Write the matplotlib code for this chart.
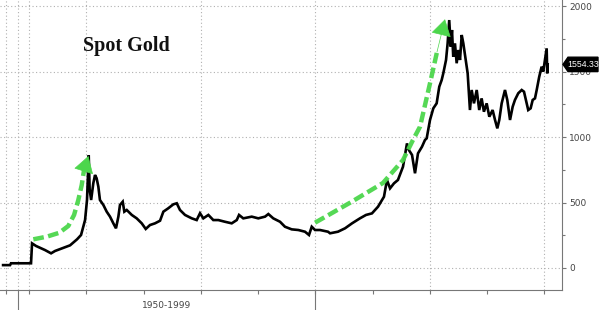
import matplotlib
matplotlib.use("Agg")
import matplotlib.pyplot as plt
from matplotlib.patches import Polygon
import matplotlib.transforms as mtransforms

# ---------------- data ----------------
years = [1972.72, 1973.33, 1973.41, 1975.16, 1975.25, 1975.60, 1976.38, 1976.91, 1977.26, 1977.87,
         1978.57, 1979.18, 1979.53, 1979.88, 1980.05, 1980.12, 1980.20, 1980.28, 1980.41, 1980.60,
         1980.75, 1980.89, 1981.04, 1981.18, 1981.48, 1981.77, 1982.06, 1982.35, 1982.58, 1982.79,
         1982.93, 1983.17, 1983.31, 1983.52, 1983.96, 1984.39, 1984.83, 1985.18, 1985.55, 1985.99,
         1986.43, 1986.72, 1987.15, 1987.59, 1987.89, 1988.17, 1988.61, 1989.20, 1989.63, 1989.92,
         1990.21, 1990.65, 1991.08, 1991.52, 1992.10, 1992.69, 1993.13, 1993.33, 1993.70, 1994.44,
         1995.01, 1995.60, 1995.89, 1996.32, 1996.91, 1997.34, 1997.93, 1998.51, 1999.09, 1999.44,
         1999.68, 1999.97, 2000.40, 2001.10, 2001.28, 2001.97, 2002.59, 2003.20, 2003.89, 2004.42,
         2004.94, 2005.47, 2005.99, 2006.25, 2006.52, 2006.86, 2007.21, 2007.65, 2008.00, 2008.17,
         2008.44, 2008.70, 2008.96, 2009.31, 2009.57, 2009.72, 2010.01, 2010.30, 2010.59, 2010.82,
         2011.03, 2011.17, 2011.41, 2011.55, 2011.69, 2011.82, 2011.93, 2012.04, 2012.19, 2012.34,
         2012.48, 2012.63, 2012.78, 2012.92, 2013.09, 2013.30, 2013.41, 2013.50, 2013.65, 2013.85,
         2014.09, 2014.31, 2014.52, 2014.72, 2014.96, 2015.19, 2015.48, 2015.69, 2015.89, 2016.06,
         2016.27, 2016.56, 2016.76, 2017.00, 2017.23, 2017.43, 2017.72, 2018.02, 2018.22, 2018.39,
         2018.59, 2018.80, 2018.98, 2019.18, 2019.33, 2019.55, 2019.76, 2019.90, 2020.05, 2020.20,
         2020.25, 2020.29]
prices = [22, 22, 36, 36, 188, 168, 137, 112, 130, 150,
          173, 219, 252, 366, 519, 672, 860, 600, 519, 647,
          710, 685, 621, 519, 481, 430, 392, 341, 303, 392,
          481, 506, 430, 443, 405, 379, 341, 298, 328, 341,
          361, 430, 456, 486, 494, 443, 405, 379, 366, 418,
          379, 405, 366, 366, 353, 341, 366, 405, 379, 392,
          379, 392, 412, 379, 353, 315, 295, 290, 277, 252,
          315, 290, 290, 277, 265, 277, 303, 341, 379, 405,
          417, 468, 544, 672, 608, 646, 672, 773, 951, 900,
          863, 723, 875, 926, 977, 990, 1130, 1219, 1257, 1384,
          1435, 1486, 1588, 1715, 1893, 1690, 1817, 1613, 1715, 1563,
          1664, 1588, 1779, 1715, 1613, 1486, 1334, 1206, 1359, 1257,
          1359, 1206, 1295, 1193, 1257, 1155, 1206, 1130, 1066, 1130,
          1257, 1359, 1283, 1130, 1231, 1283, 1334, 1359, 1346, 1283,
          1206, 1219, 1283, 1295, 1359, 1460, 1537, 1499, 1588, 1677,
          1486, 1554.33]
last_value = 1554.33

# annotation arrows (year, price)
arrow1_years = [1975.36, 1976.53, 1977.63, 1978.42, 1978.92, 1979.29, 1979.59, 1979.79]
arrow1_prices = [219, 239, 269, 321, 405, 519, 634, 748]
arrow1_tip = (1980.17, 855)
arrow2_years = [1999.97, 2003.02, 2005.90, 2007.65, 2008.52, 2009.14, 2010.01, 2010.62]
arrow2_prices = [346, 498, 649, 824, 977, 1079, 1410, 1649]
arrow2_tip = (2011.32, 1899)

y_major = [0, 500, 1000, 1500, 2000]
y_minor = [250, 750, 1250, 1750]
x_ticks = [1973, 1975, 1980, 1985, 1990, 1995, 2000, 2005, 2010, 2015, 2020]
x_grid = [1973, 1974, 1975, 1980, 1990, 2000, 2010, 2020]
x_separators = [1974, 2000]
period_label = "1950-1999"
title = "Spot Gold"

# ---------------- figure ----------------
fig = plt.figure(figsize=(6.0, 3.1), dpi=100)
ax = fig.add_axes([0, 20 / 310, 562 / 600, 290 / 310])
ax.set_xlim(1972.45, 2021.54)
ax.set_ylim(-168, 2046)

grid_kw = dict(color="#b0b0b0", lw=0.8, linestyle=(0, (1, 2.2)), zorder=0)
for v in y_major:
    ax.axhline(v, **grid_kw)
for yr in x_grid:
    ax.axvline(yr, **grid_kw)

ax.plot(years, prices, color="black", lw=1.9, zorder=3, solid_joinstyle="miter")

green = "#4cd64c"
for xs, ys, tip in [(arrow1_years, arrow1_prices, arrow1_tip),
                    (arrow2_years, arrow2_prices, arrow2_tip)]:
    ax.plot(xs, ys, color=green, lw=3.2, linestyle=(0, (2.4, 1.0)),
            dash_capstyle="butt", alpha=0.95, zorder=4)
    ax.annotate("", xy=tip, xytext=(xs[-1], ys[-1]),
                arrowprops=dict(arrowstyle="-|>,head_length=0.9,head_width=0.55",
                                color=green, lw=0.5, shrinkA=0, shrinkB=0,
                                mutation_scale=12), zorder=4)

# axes styling
for s in ["left", "top"]:
    ax.spines[s].set_visible(False)
for s in ["right", "bottom"]:
    ax.spines[s].set_color("#777777")
    ax.spines[s].set_linewidth(0.8)

ax.yaxis.tick_right()
ax.set_yticks(y_major)
ax.set_yticklabels([str(v) for v in y_major])
ax.set_yticks(y_minor, minor=True)
ax.tick_params(axis="y", which="major", direction="out", length=3, width=0.8,
               colors="#777777", labelcolor="#444444", labelsize=6.5, pad=2)
ax.tick_params(axis="y", which="minor", direction="out", length=2, width=0.8,
               colors="#777777")
ax.set_xticks(x_ticks)
ax.set_xticklabels([])
ax.tick_params(axis="x", which="major", direction="out", length=3, width=0.8,
               colors="#777777")

# separators below axis
trans = mtransforms.blended_transform_factory(ax.transData, ax.transAxes)
for yr in x_separators:
    ax.plot([yr, yr], [0, -22 / 290], transform=trans, color="#777777",
            lw=0.8, clip_on=False)
ax.text(sum(x_separators) / 2, -15 / 290, period_label, transform=trans,
        ha="center", va="center", fontsize=6.5, color="#444444")

# title
ax.text(126 / 562, 1 - 46 / 290, title, transform=ax.transAxes, ha="center",
        va="center", fontsize=14.5, family="Liberation Serif", weight="bold",
        color="#111111")

# last value tag
tt = mtransforms.blended_transform_factory(ax.transAxes, ax.transData)
px = 1 / 562
h = 7.2 * 7.634
tag = Polygon([(1 + 1 * px, last_value), (1 + 6 * px, last_value + h),
               (1 + 36 * px, last_value + h), (1 + 36 * px, last_value - h),
               (1 + 6 * px, last_value - h)], closed=True, transform=tt,
              facecolor="black", edgecolor="black", clip_on=False, zorder=10)
ax.add_patch(tag)
ax.text(1 + 21 * px, last_value, f"{last_value:.2f}", transform=tt,
        ha="center", va="center", fontsize=6.3, family="Liberation Sans",
        color="white", zorder=11, clip_on=False)

fig.savefig("out.png", dpi=100)
